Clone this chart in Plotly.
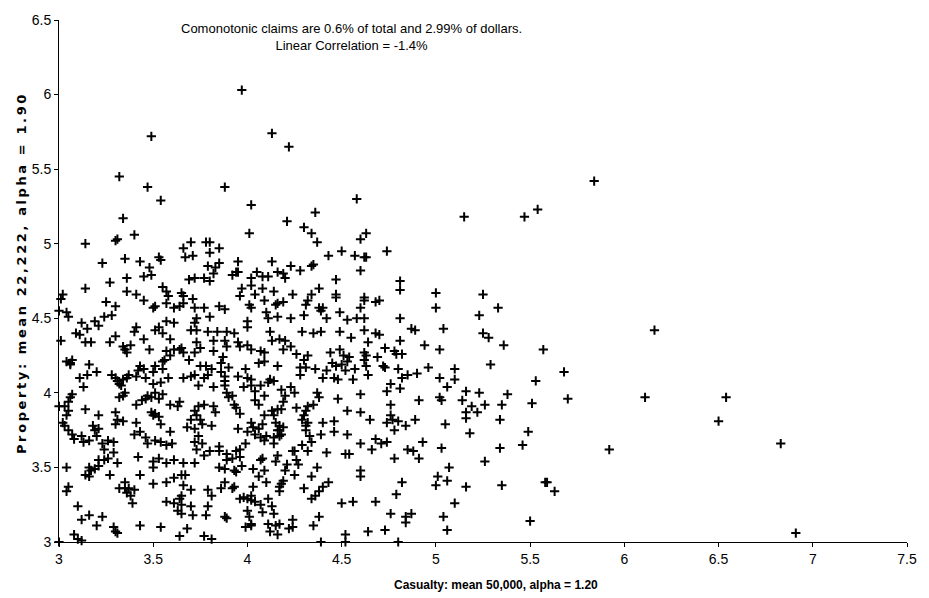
import plotly.graph_objects as go

# Scatter of simulated claim pairs (log10 scale)
casualty = [
3.97,3.49,4.13,4.22,
3.32,3.47,3.54,3.34,3.40,3.14,3.30,3.31,3.66,3.70,3.23,3.35,3.43,3.48,3.53,3.54,3.67,3.71,3.27,3.36,3.45,3.49,3.69,3.72,3.14,3.36,3.41,3.55,3.57,3.58,3.65,3.66,3.02,3.01,3.25,3.30,3.45,3.50,3.51,3.57,3.61,3.64,3.66,3.71,3.72,3.00,3.04,3.05,3.24,3.28,
3.88,4.02,4.21,4.36,4.58,4.01,4.30,4.34,4.37,4.60,3.78,3.80,3.80,3.85,4.43,4.50,4.57,3.95,4.13,4.23,4.28,4.34,4.35,3.79,3.83,3.82,3.85,3.77,3.80,3.92,3.94,3.95,4.02,4.05,4.08,4.11,4.16,4.19,4.20,4.60,4.47,3.97,3.96,4.02,4.04,4.08,4.14,4.24,4.38,4.34,4.47,4.47,4.09,4.16,4.15,4.19,4.32,4.31,3.85,3.88,4.01,4.02,4.38,4.40,4.39,3.77,4.30,4.49,3.80,4.10,4.11,4.16,3.73,4.23,4.42,4.53,4.58,4.60,
5.15,5.47,5.54,4.63,4.74,4.62,4.63,4.81,4.81,5.00,5.25,4.62,4.62,4.68,4.70,5.00,5.33,5.23,4.62,4.81,
3.12,3.19,3.09,3.11,3.15,3.21,3.01,3.14,3.17,3.27,3.30,3.34,3.35,3.36,3.38,3.40,3.41,3.45,3.48,3.51,3.53,3.55,3.57,3.61,3.59,3.70,3.72,3.57,3.59,3.61,3.64,3.66,3.65,3.69,3.72,3.55,3.56,3.04,3.06,3.07,3.06,3.16,3.20,3.15,3.11,3.28,3.30,3.31,3.32,3.34,3.36,3.33,3.37,3.41,3.42,3.45,3.43,3.46,3.50,3.51,3.50,3.54,3.58,3.55,3.66,3.70,3.72,3.13,3.07,3.06,3.05,3.03,3.00,3.32,3.34,3.35,3.41,3.44,3.46,3.47,3.49,3.51,3.55,3.53,3.59,3.63,3.64,3.05,3.04,3.02,3.03,3.14,3.21,3.30,3.31,3.30,3.34,3.41,3.49,3.50,3.51,3.53,3.54,3.70,3.68,3.72,3.59,3.05,3.07,3.08,3.12,3.13,3.16,3.18,3.19,3.21,3.20,3.23,3.26,3.29,3.40,3.43,3.46,3.47,3.51,3.54,3.57,3.60,3.72,
4.00,4.00,4.29,4.35,4.39,4.49,4.55,3.79,3.73,3.84,3.89,3.93,4.12,4.13,4.17,4.20,4.19,4.23,3.73,3.75,3.82,3.88,3.89,3.95,3.96,4.00,4.02,4.07,4.09,3.82,3.87,3.86,4.26,4.30,4.32,4.28,4.31,4.06,4.09,4.16,4.44,4.49,4.51,4.54,4.45,4.47,4.50,4.53,4.52,4.57,4.36,4.42,4.40,4.46,4.48,4.56,3.75,3.78,3.81,3.79,3.77,3.86,3.88,3.88,3.90,3.95,3.99,4.00,4.02,4.12,4.14,4.11,4.28,3.74,3.82,3.88,3.89,3.90,3.92,3.93,3.94,3.98,4.02,4.04,4.07,4.09,4.04,4.06,4.18,4.20,4.23,4.25,4.19,4.18,4.37,4.38,4.35,4.32,4.31,4.30,4.26,4.48,4.53,4.60,4.60,3.74,3.77,3.82,3.83,3.72,3.73,3.75,3.76,3.96,3.81,4.09,4.08,4.13,4.16,4.14,4.02,4.03,4.06,4.04,4.07,4.09,4.10,4.15,4.17,4.16,4.17,4.18,4.17,4.14,4.19,3.95,4.00,4.29,4.32,4.31,4.31,4.33,4.34,4.40,4.46,4.46,4.53,4.39,3.74,3.76,3.85,3.99,4.14,4.29,4.60,
4.62,4.68,4.70,4.87,4.89,5.04,5.25,5.28,5.36,4.64,4.73,4.81,4.94,5.02,4.62,4.63,4.62,4.69,4.78,4.79,4.82,4.63,4.64,4.72,4.73,4.80,4.85,4.90,4.82,4.81,4.96,5.10,5.29,5.02,5.10,5.06,5.53,4.76,4.74,4.76,4.91,5.02,5.03,5.16,5.23,5.38,5.14,5.19,5.26,5.22,5.16,5.16,5.35,5.51,4.65,4.76,4.77,4.74,4.80,4.84,4.89,4.78,5.05,5.34,5.18,5.49,4.68,4.71,4.74,4.93,5.03,4.85,5.34,5.46,
3.24,3.29,3.42,3.26,3.24,3.21,3.21,3.19,3.16,3.17,3.14,3.16,3.31,3.27,3.04,3.50,3.50,3.53,3.57,3.61,3.66,3.72,3.43,3.05,3.04,3.32,3.35,3.35,3.37,3.36,3.38,3.40,3.39,3.50,3.57,3.61,3.65,3.67,3.66,3.70,3.57,3.61,3.63,3.65,3.70,3.71,3.65,3.65,3.64,3.10,3.12,3.16,3.20,3.23,3.29,3.30,3.31,3.43,3.54,3.68,3.64,3.00,3.08,3.10,3.12,
3.73,3.80,3.85,3.89,3.94,3.96,3.77,3.89,3.92,3.85,3.88,3.96,3.97,3.94,3.93,4.08,4.07,4.15,4.16,4.21,4.26,4.27,4.24,4.25,4.32,4.42,4.52,4.54,4.03,4.09,4.06,4.10,4.20,4.19,4.18,4.25,4.37,4.34,4.60,4.60,3.79,3.81,3.86,3.88,3.92,3.93,4.03,4.17,4.17,4.30,4.40,4.43,4.38,4.36,4.34,3.96,3.98,4.00,4.02,4.02,4.04,4.07,4.11,4.08,4.13,4.14,3.79,3.78,3.88,3.89,4.00,4.01,4.02,3.99,4.02,4.11,4.15,4.17,4.12,4.16,4.24,4.24,4.22,4.38,4.35,4.50,4.56,3.77,3.81,4.39,4.52,4.52,
4.66,4.88,4.91,4.78,5.26,5.07,5.01,5.00,5.06,4.82,4.79,4.68,5.16,5.35,5.10,4.76,4.84,4.87,4.84,5.04,5.06,4.64,4.73,4.80,5.50,
5.84,6.16,5.57,5.68,5.70,6.11,6.54,6.50,6.83,5.92,5.58,5.59,5.63,6.91,
]

property_ = [
6.03,5.72,5.74,5.65,
5.45,5.38,5.29,5.17,5.06,5.00,5.02,5.03,4.97,5.01,4.87,4.90,4.88,4.84,4.91,4.89,4.91,4.92,4.74,4.77,4.78,4.79,4.76,4.77,4.70,4.68,4.66,4.71,4.68,4.65,4.67,4.65,4.66,4.63,4.61,4.58,4.62,4.57,4.58,4.60,4.57,4.58,4.60,4.63,4.57,4.55,4.54,4.51,4.51,4.52,
5.38,5.26,5.15,5.21,5.30,5.07,5.11,5.07,5.01,5.03,5.01,5.01,4.94,4.97,4.92,4.95,4.92,4.88,4.88,4.85,4.82,4.85,4.86,4.85,4.84,4.80,4.87,4.77,4.75,4.79,4.81,4.81,4.77,4.81,4.78,4.78,4.81,4.80,4.77,4.82,4.76,4.70,4.65,4.72,4.66,4.70,4.68,4.66,4.70,4.66,4.66,4.64,4.62,4.60,4.59,4.61,4.62,4.59,4.58,4.56,4.59,4.57,4.57,4.57,4.55,4.57,4.52,4.54,4.51,4.54,4.50,4.51,4.50,4.50,4.50,4.49,4.50,4.57,
5.18,5.18,5.23,5.07,4.95,4.91,4.91,4.75,4.69,4.67,4.66,4.64,4.62,4.61,4.62,4.57,4.57,4.52,4.50,4.50,
4.47,4.48,4.40,4.39,4.43,4.45,4.35,4.34,4.34,4.34,4.38,4.31,4.29,4.27,4.32,4.41,4.44,4.36,4.29,4.42,4.44,4.40,4.48,4.47,4.36,4.42,4.47,4.28,4.25,4.29,4.29,4.27,4.30,4.22,4.27,4.21,4.22,4.21,4.19,4.22,4.20,4.19,4.14,4.12,4.10,4.12,4.10,4.08,4.06,4.09,4.10,4.05,4.12,4.11,4.15,4.16,4.18,4.10,4.14,4.18,4.06,4.07,4.10,4.16,4.10,4.11,4.12,4.04,3.99,3.97,3.94,3.91,3.91,3.97,3.98,4.00,3.92,3.95,3.96,3.98,3.97,4.00,3.99,3.96,3.92,3.91,3.94,3.88,3.85,3.80,3.78,3.89,3.85,3.87,3.82,3.79,3.81,3.80,3.87,3.85,3.86,3.84,3.79,3.82,3.77,3.76,3.74,3.75,3.72,3.69,3.71,3.67,3.68,3.78,3.75,3.76,3.71,3.66,3.68,3.67,3.72,3.74,3.70,3.66,3.68,3.67,3.65,3.66,3.67,
4.48,4.44,4.41,4.40,4.41,4.41,4.37,4.41,4.42,4.41,4.41,4.40,4.41,4.35,4.36,4.35,4.29,4.31,4.34,4.30,4.35,4.35,4.31,4.34,4.31,4.32,4.29,4.28,4.27,4.28,4.24,4.20,4.26,4.22,4.25,4.17,4.17,4.20,4.21,4.18,4.27,4.29,4.25,4.24,4.20,4.18,4.19,4.21,4.15,4.16,4.16,4.15,4.10,4.10,4.09,4.09,4.18,4.18,4.16,4.12,4.10,4.14,4.11,4.08,4.17,4.11,4.16,4.10,4.09,4.09,4.08,4.07,4.12,4.05,4.04,4.05,4.00,3.97,3.98,3.92,3.90,4.04,4.05,4.01,4.05,3.98,3.95,3.92,4.02,3.98,4.04,4.00,3.94,3.89,4.00,3.97,3.92,3.91,3.88,3.85,3.90,3.96,3.88,3.99,3.87,3.91,3.92,3.91,3.87,3.88,3.85,3.82,3.79,3.86,3.78,3.85,3.79,3.88,3.89,3.85,3.80,3.77,3.76,3.72,3.70,3.68,3.71,3.80,3.78,3.75,3.75,3.72,3.71,3.70,3.77,3.76,3.74,3.82,3.80,3.75,3.78,3.71,3.67,3.80,3.81,3.74,3.72,3.72,3.71,3.66,3.64,3.66,3.66,3.65,3.66,
4.42,4.40,4.39,4.43,4.42,4.43,4.40,4.37,4.32,4.34,4.30,4.35,4.32,4.29,4.27,4.25,4.22,4.24,4.28,4.26,4.26,4.18,4.12,4.18,4.17,4.16,4.12,4.13,4.10,4.03,4.17,4.16,4.19,4.10,4.09,4.04,4.08,4.06,4.01,3.92,3.95,3.97,3.95,4.01,4.00,3.99,3.95,3.91,3.92,3.87,3.87,3.83,3.92,3.93,3.82,3.85,3.82,3.80,3.81,3.78,3.82,3.75,3.79,3.82,3.73,3.74,3.69,3.66,3.67,3.67,3.63,3.62,3.63,3.65,
3.62,3.60,3.57,3.56,3.55,3.55,3.51,3.49,3.50,3.48,3.45,3.44,3.53,3.45,3.50,3.54,3.50,3.56,3.53,3.55,3.53,3.53,3.45,3.37,3.34,3.36,3.40,3.36,3.36,3.33,3.31,3.35,3.26,3.39,3.40,3.43,3.45,3.45,3.38,3.35,3.27,3.26,3.21,3.25,3.24,3.18,3.19,3.31,3.29,3.24,3.15,3.18,3.11,3.17,3.10,3.07,3.06,3.11,3.10,3.09,3.04,3.00,3.05,3.02,3.01,
3.62,3.61,3.61,3.59,3.61,3.62,3.58,3.55,3.56,3.50,3.49,3.57,3.51,3.47,3.48,3.56,3.55,3.54,3.58,3.52,3.55,3.52,3.61,3.61,3.61,3.60,3.59,3.59,3.49,3.48,3.44,3.40,3.48,3.41,3.39,3.45,3.50,3.44,3.48,3.44,3.35,3.31,3.36,3.40,3.36,3.37,3.37,3.37,3.34,3.36,3.37,3.40,3.34,3.31,3.29,3.29,3.30,3.29,3.31,3.28,3.27,3.25,3.29,3.20,3.24,3.19,3.24,3.18,3.17,3.16,3.21,3.17,3.12,3.10,3.11,3.12,3.11,3.12,3.07,3.05,3.15,3.10,3.09,3.17,3.11,3.26,3.27,3.04,3.02,3.00,3.05,3.00,
3.62,3.61,3.56,3.56,3.54,3.50,3.44,3.38,3.41,3.40,3.32,3.27,3.37,3.38,3.26,3.19,3.17,3.19,3.13,3.17,3.08,3.07,3.08,3.00,3.14,
5.42,4.42,4.29,4.14,3.96,3.97,3.97,3.81,3.66,3.62,3.40,3.40,3.34,3.06,
]

x_ticks = [3, 3.5, 4, 4.5, 5, 5.5, 6, 6.5, 7, 7.5]
y_ticks = [3, 3.5, 4, 4.5, 5, 5.5, 6, 6.5]
x_title = "Casualty: mean 50,000, alpha = 1.20"
y_title = "Property: mean 22,222, alpha = 1.90"
note_lines = ["Comonotonic claims are 0.6% of total and 2.99% of dollars.",
              "Linear Correlation = -1.4%"]

FONT = "Liberation Sans, Arial, sans-serif"

fig = go.Figure()
fig.add_trace(go.Scatter(
    x=casualty, y=property_, mode="markers",
    marker=dict(symbol="cross-thin", size=6.6, color="black",
                line=dict(width=2, color="black")),
    hoverinfo="skip", showlegend=False, cliponaxis=False,
))

fig.update_layout(
    width=929, height=598,
    margin=dict(l=59, r=17, t=17, b=56),
    paper_bgcolor="white", plot_bgcolor="white",
    font=dict(family=FONT, size=14, color="black"),
    xaxis=dict(range=[3, 7.5], tickvals=x_ticks, ticktext=[f"{v:g}" for v in x_ticks],
               showgrid=False, zeroline=False, showline=True, linecolor="black", linewidth=1,
               ticks="outside", ticklen=4, tickcolor="black", mirror=False),
    yaxis=dict(range=[3, 6.5], tickvals=y_ticks, ticktext=[f"{v:g}" for v in y_ticks],
               showgrid=False, zeroline=False, showline=True, linecolor="black", linewidth=1,
               ticks="outside", ticklen=4, tickcolor="black"),
    annotations=[
        dict(text="<br>".join(note_lines), xref="paper", yref="paper",
             x=0.345, y=0.967, xanchor="center", yanchor="middle",
             showarrow=False, align="center",
             font=dict(family=FONT, size=13, color="black")),
        dict(text=f"<b>{x_title}</b>", xref="paper", yref="paper",
             x=0.515, y=-0.082, xanchor="center", yanchor="middle", showarrow=False,
             font=dict(family=FONT, size=12, color="black")),
        dict(text=f"<b><span style='letter-spacing:2.6px'>{y_title}</span></b>",
             xref="paper", yref="paper",
             x=-0.045, y=0.515, showarrow=False, textangle=-90,
             xanchor="center", yanchor="middle",
             font=dict(family="DejaVu Sans, sans-serif", size=13, color="black")),
    ],
)

fig.write_html("out.html")
